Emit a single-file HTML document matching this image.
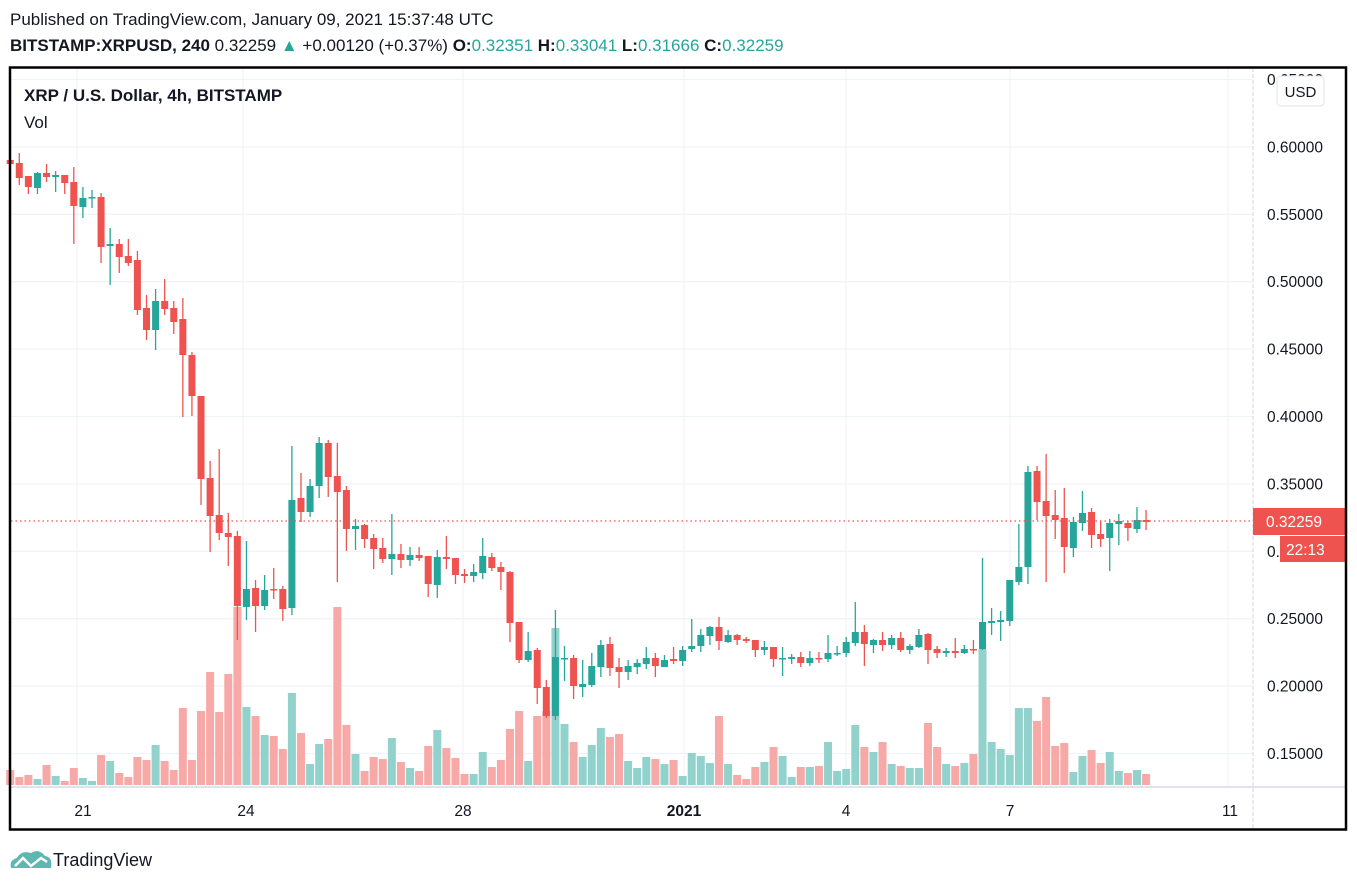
<!DOCTYPE html>
<html><head><meta charset="utf-8"><style>
body{margin:0;width:1357px;height:888px;background:#fff;overflow:hidden;font-family:"Liberation Sans",sans-serif;}
</style></head><body>
<svg id="s" width="1357" height="888" xmlns="http://www.w3.org/2000/svg" style="position:absolute;left:0;top:0">
<text x="10" y="25" font-size="17" fill="#131722">Published on TradingView.com, January 09, 2021 15:37:48 UTC</text>
<text x="10" y="51" font-size="17" fill="#131722"><tspan font-weight="bold">BITSTAMP:XRPUSD, 240</tspan> 0.32259 <tspan fill="#26a69a">▲</tspan> +0.00120 (+0.37%) <tspan font-weight="bold">O:</tspan><tspan fill="#26a69a">0.32351</tspan> <tspan font-weight="bold">H:</tspan><tspan fill="#26a69a">0.33041</tspan> <tspan font-weight="bold">L:</tspan><tspan fill="#26a69a">0.31666</tspan> <tspan font-weight="bold">C:</tspan><tspan fill="#26a69a">0.32259</tspan></text>
<g id="grid"></g>
<g id="vol"></g>
<g id="cnd"></g>
<line x1="11" y1="521" x2="1253" y2="521" stroke="#ef5350" stroke-width="1.2" stroke-dasharray="1.5,3"/>
<line x1="1253" y1="68" x2="1253" y2="829" stroke="#d6d6d6" stroke-dasharray="4,2"/>
<line x1="11" y1="787" x2="1346" y2="787" stroke="#e0e3eb" stroke-width="2"/>
<g id="plab" font-size="15.5" fill="#131722"></g>
<rect x="1277" y="76" width="47" height="30" rx="4" fill="#fff" stroke="#e0e3eb"/>
<text x="1300.5" y="97" font-size="15" fill="#131722" text-anchor="middle">USD</text>
<rect x="1253" y="508" width="93" height="27" fill="#ef5350"/>
<text x="1266" y="527" font-size="15.5" fill="#fff">0.32259</text>
<rect x="1280" y="536" width="66" height="26" fill="#ef5350"/>
<text x="1286" y="555" font-size="15.5" fill="#fff">22:13</text>
<g font-size="15.5" fill="#131722" text-anchor="middle">
<text x="83" y="816">21</text><text x="246" y="816">24</text><text x="463" y="816">28</text>
<text x="684" y="816" font-weight="bold">2021</text><text x="846" y="816">4</text><text x="1010" y="816">7</text><text x="1230" y="816">11</text>
</g>
<rect x="10" y="67.5" width="1336" height="762" fill="none" stroke="#000" stroke-width="2.5"/>
<text x="24" y="101" font-size="17" font-weight="bold" fill="#131722">XRP / U.S. Dollar, 4h, BITSTAMP</text>
<text x="24" y="128" font-size="17" fill="#131722">Vol</text>
<g transform="translate(9,848)">
<path d="M2,20 Q0,12 8,10 Q12,2 22,5 Q30,0 36,8 Q44,9 42,20 Z" fill="#5fb7b1"/>
<polyline points="6,18 14,10 22,18 32,10 38,14" fill="none" stroke="#fff" stroke-width="2.5"/>
</g>
<text x="53" y="866" font-size="18" fill="#131722">TradingView</text>
</svg>
<script>
var R="#ef5350",G="#26a69a";
var C=[
['r',160,164,158,166],['r',163,178,153,185],['r',176,187,176,194],['g',173,188,172,194],['r',173,177,164,182],['g',175,177,171,192],['r',175,183,175,194],['r',182,206,167,244],['g',198,207,187,218],['g',197,198,190,208],
['r',197,247,193,263],['g',244,246,228,285],['r',244,257,239,273],['r',256,263,239,266],['r',260,310,251,315],['r',308,330,295,340],['g',301,330,289,350],['r',301,309,279,315],['r',308,322,301,334],['r',319,355,298,417],
['r',355,396,352,416],['r',396,479,396,505],['r',478,516,461,552],['r',515,533,449,540],['r',533,537,513,566],['r',536,606,531,640],['g',589,607,541,620],['r',588,606,580,632],['g',590,606,575,610],['r',589,590,568,599],
['r',589,609,586,621],['g',500,608,446,615],['r',498,512,473,522],['g',486,512,479,517],['g',443,486,437,498],['r',443,477,440,497],['r',476,492,443,582],['r',490,529,486,551],['g',526,529,519,550],['r',525,539,524,548],
['r',538,549,534,569],['r',548,559,538,563],['g',554,559,514,575],['r',554,560,544,568],['g',555,560,547,566],['r',555,558,547,561],['r',556,584,556,597],['g',557,585,550,598],['r',557,559,536,569],['r',558,575,558,584],
['r',574,576,569,583],['g',572,576,564,582],['g',556,573,538,579],['r',557,568,553,571],['r',567,572,562,590],['r',572,623,571,642],['r',622,660,622,663],['g',651,660,632,662],['r',650,688,648,704],['r',687,716,680,718],
['g',657,716,610,720],['g',658,659,646,681],['r',658,686,655,699],['g',684,687,660,697],['g',666,685,653,687],['g',645,667,640,677],['r',644,668,637,676],['r',667,672,658,688],['g',666,672,660,680],['g',663,667,659,674],
['g',658,664,647,669],['r',658,666,653,677],['g',660,667,655,667],['r',659,661,647,664],['g',650,661,646,666],['g',646,649,619,652],['g',635,646,629,652],['g',627,636,626,645],['r',627,641,617,650],['g',635,642,630,643],
['r',635,640,634,645],['r',639,641,637,643],['r',640,650,640,657],['g',647,650,641,655],['r',647,659,647,667],['g',658,659,647,676],['g',657,659,654,664],['r',657,663,652,667],['g',658,663,651,666],['r',658,659,652,663],
['g',653,659,635,662],['g',653,654,646,656],['g',642,653,637,657],['g',632,643,602,646],['r',632,644,625,666],['g',640,645,639,653],['r',640,645,632,651],['g',638,645,635,649],['r',638,650,632,652],['g',646,650,644,654],
['g',635,647,629,648],['r',634,650,633,664],['r',649,653,646,658],['g',651,653,648,657],['r',651,653,638,658],['g',649,653,645,654],['r',649,650,640,654],['g',622,649,558,650],['g',621,623,608,635],['g',620,622,611,641],
['g',580,621,580,626],['g',567,582,524,585],['g',472,567,466,584],['r',471,502,466,520],['r',501,516,454,582],['r',515,520,490,539],['r',518,547,488,573],['g',522,548,517,557],['g',513,523,491,531],['r',512,535,508,548],
['r',534,539,521,547],['g',523,538,519,571],['g',521,524,514,545],['r',523,528,521,541],['g',520,529,507,533],['r',520,522,510,530]];
var V=[770,777,775,779,765,776,781,768,778,781,755,761,773,777,757,760,745,761,770,708,760,711,672,712,674,607,707,716,735,736,749,693,733,764,744,739,607,725,754,771,757,759,738,762,768,771,746,730,748,758,774,774,752,767,760,729,711,761,716,711,628,724,742,
757,745,728,737,734,761,768,757,759,764,760,776,753,756,763,716,764,775,779,767,762,747,756,777,767,767,766,742,771,769,725,747,752,742,764,766,768,768,723,747,764,766,763,754,649,742,749,755,708,708,721,697,746,743,772,756,750,763,752,771,773,770,774];
var ns="http://www.w3.org/2000/svg";
function el(p,t,a){var e=document.createElementNS(ns,t);for(var k in a)e.setAttribute(k,a[k]);document.getElementById(p).appendChild(e);return e;}
for(var i=0;i<11;i++){var y=79.5+i*67.4;el('grid','line',{x1:11,x2:1253,y1:y,y2:y,stroke:'#f0f3fa','stroke-width':1.3});
var t=el('plab','text',{x:1267,y:y+5.5});t.textContent=(0.65-i*0.05).toFixed(5);}
[77,243,463,684,846,1010,1228].forEach(function(x){el('grid','line',{x1:x,x2:x,y1:68,y2:787,stroke:'#f0f3fa','stroke-width':1.3});});
for(var k=0;k<C.length;k++){var c=C[k],x=10.2+9.087*k,col=c[0]=='r'?R:G;
 el('cnd','line',{x1:x,x2:x,y1:c[3],y2:c[4],stroke:col,'stroke-width':1.3});
 el('cnd','rect',{x:x-3.5,y:c[1],width:7,height:Math.max(1.5,c[2]-c[1]),fill:col});
 var vy=V[k];el('vol','rect',{x:x-4,y:vy,width:8,height:785-vy,fill:c[0]=='r'?'#f7a9a7':'#92d2cc'});}
</script>
</body></html>
